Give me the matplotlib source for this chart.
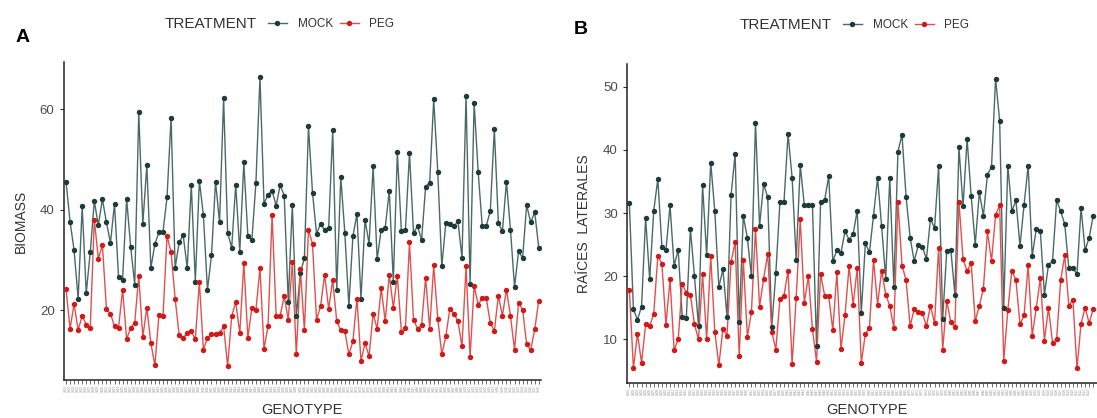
import matplotlib
matplotlib.use('Agg')
import matplotlib.pyplot as plt
from matplotlib.lines import Line2D

plt.rcParams['font.family'] = ['Liberation Sans', 'DejaVu Sans']

# genotype ids (labels are unreadable in the source, so plain ids)
genotypes = [f'G{i:03d}' for i in range(1, 119)]

# panel A - biomass
biomass_mock = [45.6, 37.6, 31.9, 22.3, 40.7, 23.4, 31.6, 41.7, 36.9, 42.1,
                37.5, 33.4, 41.2, 26.6, 26.1, 42.1, 32.6, 25.1, 59.5, 37.1,
                48.9, 28.4, 33.2, 35.5, 35.6, 42.5, 58.3, 28.4, 33.5, 34.9,
                28.4, 45.0, 25.7, 45.8, 38.9, 24.0, 30.9, 45.6, 37.5, 62.2,
                35.4, 32.4, 45.0, 31.6, 49.4, 34.8, 34.0, 45.4, 66.4, 41.2,
                43.0, 43.8, 40.8, 44.9, 42.8, 21.7, 40.9, 18.8, 27.4, 30.4,
                56.6, 43.4, 35.2, 37.2, 35.9, 36.4, 55.8, 24.1, 46.5, 35.4,
                20.8, 34.7, 39.2, 22.3, 38.0, 33.2, 48.6, 30.1, 36.0, 36.4,
                43.8, 25.6, 51.4, 35.7, 35.9, 51.3, 35.4, 36.7, 34.0, 44.6,
                45.4, 62.0, 47.6, 28.7, 37.4, 37.2, 36.7, 37.7, 30.4, 62.6,
                25.3, 61.3, 47.5, 36.8, 36.8, 39.7, 56.0, 37.4, 35.7, 45.6,
                36.0, 24.6, 31.7, 30.4, 40.9, 37.5, 39.5, 32.4]
biomass_peg = [24.2, 16.3, 21.3, 16.0, 18.9, 17.1, 16.5, 38.0, 30.2, 33.0,
               20.3, 19.3, 16.8, 16.5, 24.1, 14.2, 16.5, 17.5, 26.8, 14.7,
               20.5, 13.4, 9.0, 19.1, 18.8, 34.8, 31.5, 22.3, 15.0, 14.5,
               15.5, 15.8, 14.2, 25.6, 12.1, 14.5, 15.2, 15.2, 15.4, 16.8,
               8.9, 18.8, 21.6, 15.4, 29.4, 14.5, 20.5, 20.0, 28.4, 12.3,
               16.8, 39.0, 18.9, 18.9, 22.8, 18.1, 29.5, 11.2, 28.1, 16.0,
               36.0, 33.2, 18.1, 20.8, 27.1, 20.3, 26.0, 17.8, 16.0, 15.8,
               11.2, 13.8, 22.3, 9.9, 13.4, 10.9, 19.3, 16.3, 24.4, 17.8,
               27.1, 20.5, 26.8, 15.6, 16.5, 33.5, 18.1, 16.3, 17.1, 26.5,
               16.3, 28.9, 18.3, 11.2, 14.8, 20.3, 19.3, 17.8, 12.8, 28.7,
               10.7, 24.8, 21.1, 22.4, 22.4, 17.5, 15.8, 22.9, 18.9, 24.1,
               18.8, 12.1, 21.5, 20.1, 13.2, 12.1, 16.2, 21.9]

# panel B - lateral roots (the last genotypes are cut off in the source)
raices_mock = [31.6, 14.8, 13.1, 15.2, 29.2, 19.5, 30.4, 35.4, 24.7, 24.2,
               31.2, 21.6, 24.2, 13.6, 13.4, 27.5, 20.0, 12.1, 34.4, 23.3,
               38.0, 30.3, 18.3, 21.1, 13.6, 32.8, 39.4, 12.7, 29.5, 26.1,
               20.0, 44.3, 28.0, 34.6, 32.5, 12.0, 20.5, 31.7, 31.7, 42.5,
               35.6, 22.6, 37.6, 31.2, 31.2, 31.2, 8.9, 31.7, 32.1, 35.8,
               22.4, 24.1, 23.7, 27.1, 25.8, 26.7, 30.4, 14.2, 25.2, 23.8,
               29.6, 35.6, 27.9, 19.6, 35.6, 18.3, 39.7, 42.4, 32.6, 26.1,
               22.4, 24.9, 24.7, 22.7, 29.1, 27.6, 37.4, 13.3, 24.0, 24.2,
               17.1, 40.4, 31.1, 41.7, 32.7, 25.0, 33.3, 29.6, 36.1, 37.3,
               51.3, 44.6, 15.0, 37.5, 30.3, 32.0, 24.8, 31.3, 37.5, 23.2,
               27.5, 27.1, 17.1, 21.8, 22.4, 32.0, 30.3, 28.2, 21.3, 21.3,
               20.3, 30.8, 24.1, 26.1, 29.6]
raices_peg = [17.9, 5.4, 10.9, 6.3, 12.4, 12.1, 14.1, 23.2, 22.0, 12.3,
              19.5, 8.3, 10.0, 18.8, 17.4, 17.1, 12.4, 10.0, 20.3, 10.0,
              23.2, 11.2, 5.9, 11.7, 10.6, 22.3, 25.4, 7.4, 22.6, 10.4,
              14.3, 27.5, 15.2, 19.6, 23.6, 11.2, 8.4, 16.4, 16.9, 20.9,
              6.1, 16.6, 29.0, 15.8, 20.0, 11.6, 6.5, 20.3, 16.9, 16.8,
              11.5, 20.6, 8.5, 13.8, 21.6, 15.5, 21.3, 6.3, 10.9, 11.8,
              22.6, 15.5, 20.9, 17.1, 15.3, 11.8, 31.8, 21.7, 19.4, 12.1,
              14.8, 14.3, 14.2, 12.1, 15.3, 12.6, 24.5, 8.4, 16.1, 12.7,
              12.0, 31.8, 22.7, 20.8, 22.1, 12.9, 15.3, 18.0, 27.1, 22.4,
              29.7, 31.2, 6.6, 14.6, 20.9, 19.4, 12.4, 13.8, 21.8, 10.6,
              15.0, 19.7, 9.8, 15.0, 9.5, 10.0, 19.4, 23.3, 15.3, 16.3,
              5.4, 12.5, 15.0, 12.6, 14.8]

MOCK_COLOR = '#1d3b38'
MOCK_LINE = '#4a6a67'
PEG_COLOR = '#d01a1a'
PEG_LINE = '#e0504f'

W, H = 1097, 418
fig = plt.figure(figsize=(W / 100, H / 100), dpi=100)


def draw_panel(ax, mock, peg, ylabel, yticks, ylim, n_labels):
    xm = list(range(len(mock)))
    xp = list(range(len(peg)))
    ax.plot(xm, mock, '-', color=MOCK_LINE, lw=1.0, zorder=2)
    ax.plot(xp, peg, '-', color=PEG_LINE, lw=1.0, zorder=2)
    ax.plot(xm, mock, 'o', color=MOCK_COLOR, ms=3.9, mew=0, zorder=3)
    ax.plot(xp, peg, 'o', color=PEG_COLOR, ms=3.9, mew=0, zorder=3)

    ax.set_xlim(-0.6, len(genotypes) - 0.4)
    ax.set_ylim(*ylim)
    ax.set_xticks(range(len(genotypes)))
    # labels past the figure edge are not visible in the source
    labels = [g if i < n_labels else '' for i, g in enumerate(genotypes)]
    ax.set_xticklabels(labels, rotation=90, fontsize=2, color='#888888')
    ax.set_yticks(yticks)
    ax.tick_params(axis='x', length=3, width=0.5, pad=0.5, color='#333333')
    ax.tick_params(axis='y', length=3, width=0.8, labelsize=9.5,
                   labelcolor='#4d4d4d', color='#333333')

    for side in ['top', 'right']:
        ax.spines[side].set_visible(False)
    for side in ['left', 'bottom']:
        ax.spines[side].set_linewidth(1.1)
        ax.spines[side].set_color('#222222')

    ax.set_ylabel(ylabel, fontsize=10, color='#333333')
    ax.yaxis.set_label_coords(-0.075, 0.5)
    ax.set_xlabel('GENOTYPE', fontsize=10.5, color='#333333')
    ax.xaxis.label.set_va('center')


axA = fig.add_axes([63.6 / W, 38 / H, 477.6 / W, 318 / H])
draw_panel(axA, biomass_mock, biomass_peg, 'BIOMASS', [20, 40, 60],
           (6.1, 69.4), len(genotypes))
axA.xaxis.set_label_coords(0.5, -0.095)

axB = fig.add_axes([626.9 / W, 35 / H, 481 / W, 319 / H])
draw_panel(axB, raices_mock, raices_peg, 'RAÍCES  LATERALES',
           [10, 20, 30, 40, 50], (3.1, 53.6), len(raices_mock) - 1)
axB.xaxis.set_label_coords(0.5, -0.085)

# panel letters
fig.text(23 / W, 1 - 37 / H, 'A', fontsize=14, fontweight='bold',
         ha='center', va='center')
fig.text(581 / W, 1 - 29 / H, 'B', fontsize=14, fontweight='bold',
         ha='center', va='center')

# legends on top of each panel
handles = [Line2D([0], [0], color=MOCK_LINE, lw=1.0, marker='o',
                  markerfacecolor=MOCK_COLOR, markeredgewidth=0, ms=3.9),
           Line2D([0], [0], color=PEG_LINE, lw=1.0, marker='o',
                  markerfacecolor=PEG_COLOR, markeredgewidth=0, ms=3.9)]

for title_right, key_left, y in [(257, 268, 24), (832, 843, 25)]:
    fig.text(title_right / W, 1 - y / H, 'TREATMENT', fontsize=11,
             color='#333333', ha='right', va='center')
    leg = fig.legend(handles, ['MOCK', 'PEG'], ncol=2, frameon=False,
                     loc='center left',
                     bbox_to_anchor=(key_left / W, 1 - y / H),
                     fontsize=8.5, handlelength=1.6, handletextpad=0.9,
                     columnspacing=0.6, borderpad=0, borderaxespad=0)
    for t in leg.get_texts():
        t.set_color('#333333')

fig.savefig('out.png', dpi=100)
